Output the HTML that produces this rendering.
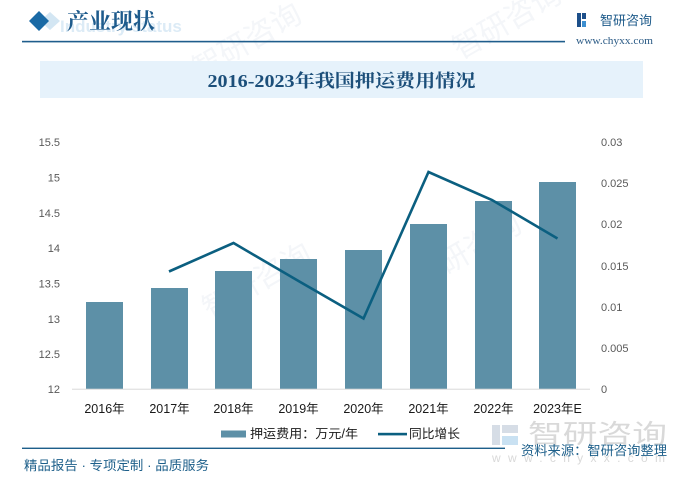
<!DOCTYPE html>
<html><head><meta charset="utf-8"><style>
html,body{margin:0;padding:0;background:#fff;}
svg{display:block;}
</style></head><body>
<svg width="682" height="488" viewBox="0 0 682 488" xmlns="http://www.w3.org/2000/svg">
<rect width="682" height="488" fill="#fff"/>
<!-- faint watermarks -->
<g fill="#f4f6f9" font-family="Liberation Sans, Noto Sans CJK SC, sans-serif">
<text x="200" y="80" font-size="30" transform="rotate(-30 200 80)">智研咨询</text>
<text x="210" y="320" font-size="30" transform="rotate(-30 210 320)">智研咨询</text>
<text x="420" y="290" font-size="30" transform="rotate(-30 420 290)">智研咨询</text>
<text x="460" y="60" font-size="30" transform="rotate(-30 460 60)">智研咨询</text>
</g>
<!-- header -->
<polygon points="50,12 60,21 50,30 40,21" fill="#d3e6f3"/>
<polygon points="39,11 49,21 39,31 29,21" fill="#1a6aa5"/>
<text x="60" y="32" font-family="Liberation Sans, sans-serif" font-weight="bold" font-size="17" fill="#dcebf6">Industry status</text>
<text x="67" y="29" font-family="Liberation Serif, Noto Serif CJK SC, serif" font-weight="bold" font-size="22" fill="#1e5b8c">产业现状</text>
<rect x="22" y="40.8" width="543" height="1.6" fill="#1f5d8c"/>
<!-- top-right logo -->
<g fill="#1d4f8a">
<rect x="577" y="13" width="4" height="14"/>
<rect x="582" y="13" width="4" height="6"/>
<rect x="582" y="21" width="4" height="6" fill="#3d8fd0"/>
</g>
<text x="600" y="25" font-family="Liberation Sans, Noto Sans CJK SC, sans-serif" font-size="13" fill="#1d5a8a">智研咨询</text>
<text x="576" y="44" font-family="Liberation Serif, serif" font-size="11" fill="#2a5a85" textLength="77" lengthAdjust="spacingAndGlyphs">www.chyxx.com</text>
<!-- title band -->
<rect x="40" y="61" width="603" height="37" fill="#e6f2fb"/>
<text x="341.5" y="87" text-anchor="middle" font-family="Liberation Serif, Noto Serif CJK SC, serif" font-weight="bold" font-size="18" fill="#1c4f7a" textLength="268" lengthAdjust="spacingAndGlyphs">2016-2023年我国押运费用情况</text>
<!-- axes labels left -->
<g font-family="Liberation Sans, sans-serif" font-size="11" fill="#595959" text-anchor="end">
<text x="60" y="146">15.5</text>
<text x="60" y="181.5">15</text>
<text x="60" y="217">14.5</text>
<text x="60" y="252">14</text>
<text x="60" y="287.5">13.5</text>
<text x="60" y="323">13</text>
<text x="60" y="358">12.5</text>
<text x="60" y="393">12</text>
</g>
<g font-family="Liberation Sans, sans-serif" font-size="11" fill="#595959">
<text x="601" y="146">0.03</text>
<text x="601" y="187">0.025</text>
<text x="601" y="228">0.02</text>
<text x="601" y="270">0.015</text>
<text x="601" y="311">0.01</text>
<text x="601" y="352">0.005</text>
<text x="601" y="393">0</text>
</g>
<!-- bars -->
<g fill="#5d90a7">
<rect x="86" y="302" width="37" height="87"/>
<rect x="151" y="288" width="37" height="101"/>
<rect x="215" y="271" width="37" height="118"/>
<rect x="280" y="259" width="37" height="130"/>
<rect x="345" y="250" width="37" height="139"/>
<rect x="410" y="224" width="37" height="165"/>
<rect x="475" y="201" width="37" height="188"/>
<rect x="539" y="182" width="37" height="207"/>
</g>
<rect x="72" y="388.7" width="518" height="1" fill="#d9d9d9"/>
<!-- line -->
<polyline points="169,271.5 233.5,243 298.5,281 363.5,318.5 428.5,172 492,200 557.5,238.5" fill="none" stroke="#0b5f80" stroke-width="2.6" stroke-linejoin="miter"/>
<!-- x labels -->
<g font-family="Liberation Sans, Noto Sans CJK SC, sans-serif" font-size="12.5" fill="#1a1a1a" text-anchor="middle">
<text x="104.5" y="413">2016年</text>
<text x="169.5" y="413">2017年</text>
<text x="233.5" y="413">2018年</text>
<text x="298.5" y="413">2019年</text>
<text x="363.5" y="413">2020年</text>
<text x="428.5" y="413">2021年</text>
<text x="493.5" y="413">2022年</text>
<text x="557.5" y="413">2023年E</text>
</g>
<!-- legend -->
<rect x="221" y="430.5" width="25" height="7" fill="#5d90a7"/>
<text x="250" y="438" font-family="Liberation Sans, Noto Sans CJK SC, sans-serif" font-size="12.5" fill="#1a1a1a" textLength="108" lengthAdjust="spacingAndGlyphs">押运费用：万元/年</text>
<rect x="378" y="432.8" width="29" height="2.6" fill="#0b5f80"/>
<text x="409" y="438" font-family="Liberation Sans, Noto Sans CJK SC, sans-serif" font-size="12.5" fill="#1a1a1a" textLength="51" lengthAdjust="spacingAndGlyphs">同比增长</text>
<!-- bottom-right watermark logo -->
<g fill="#d6dde6">
<rect x="492" y="425" width="8" height="20"/>
<rect x="502" y="425" width="16" height="8"/>
<rect x="502" y="436" width="16" height="9" fill="#c9e1f2"/>
</g>
<text x="528" y="443" font-family="Liberation Sans, Noto Sans CJK SC, sans-serif" font-size="26" fill="#d9d9d9" textLength="139" lengthAdjust="spacingAndGlyphs">智研咨询</text>
<text x="492" y="462" font-family="Liberation Sans, sans-serif" font-size="12" fill="#d9d9d9" textLength="173" lengthAdjust="spacing">www.chyxx.com</text>
<!-- footer -->
<rect x="22" y="447.6" width="483" height="1.4" fill="#1d5f8a"/>
<text x="521" y="455" font-family="Liberation Sans, Noto Sans CJK SC, sans-serif" font-size="13" fill="#1d5f8a" textLength="146" lengthAdjust="spacingAndGlyphs">资料来源：智研咨询整理</text>
<text x="24" y="470" font-family="Liberation Sans, Noto Sans CJK SC, sans-serif" font-size="13" fill="#1d5f8a" textLength="185" lengthAdjust="spacingAndGlyphs">精品报告 · 专项定制 · 品质服务</text>
</svg>
</body></html>
